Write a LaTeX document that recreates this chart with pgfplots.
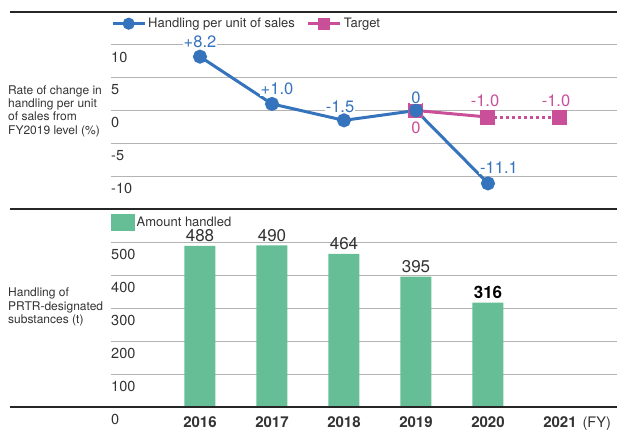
\documentclass[border=0pt]{standalone}
\usepackage{pgfplots}
\pgfplotsset{compat=1.18}
\usepackage{fontspec}
\setmainfont{TeX Gyre Heros}
\definecolor{cblue}{HTML}{3574BD}
\definecolor{cpink}{HTML}{C94F98}
\definecolor{cgreen}{HTML}{66BE97}
\definecolor{cgrid}{HTML}{B4B4B4}
\definecolor{ctext}{HTML}{333333}
\begin{document}
\begin{tikzpicture}[x=1pt,y=1pt]
\useasboundingbox (0,0) rectangle (617,430);
\pgfplotsset{
  panel/.style={
    scale only axis, width=506pt,
    xmin=2014.764, xmax=2021.792,
    axis line style={draw=none},
    major tick length=0pt,
    ymajorgrids, grid style={cgrid, line width=0.8pt},
    yticklabel style={anchor=north west, inner sep=0pt, yshift=-7pt, font=\fontsize{14.5}{14.5}\selectfont, text=ctext},
    clip=false,
  },
}
% ---------- top panel ----------
\begin{axis}[panel, at={(111pt,221pt)}, anchor=south west, height=197pt,
  ymin=-15, ymax=15, ytick={-10,-5,0,5,10}, yticklabels={-10,-5,0,5,10},
  xtick=\empty,
  legend style={at={(0,1)}, anchor=north west, yshift=-4pt, draw=none, fill=none, inner sep=0pt,
    font=\fontsize{13}{13}\selectfont, text=ctext, legend columns=2,
    /tikz/every even column/.append style={column sep=10pt}},
  legend cell align=left,
  legend image code/.code={\draw[mark repeat=2, mark phase=2,#1] plot coordinates {(0pt,0pt)(16pt,0pt)(32pt,0pt)};},
]
\addlegendimage{cblue, line width=3pt, mark=*, mark size=4.5pt}
\addlegendentry{Handling per unit of sales}
\addlegendimage{cpink, line width=3pt, mark=square*, mark size=4.5pt}
\addlegendentry{Target}
\addplot[cpink, line width=3pt, mark=square*, mark size=6pt, forget plot] coordinates {(2019,0) (2020,-1.0)};
\addplot[cpink, line width=3pt, dash pattern=on 3pt off 3pt, mark=square*, mark size=6pt, mark options={solid}, forget plot] coordinates {(2020,-1.0) (2021,-1.0)};
\addplot[cblue, line width=3pt, mark=*, mark size=5.5pt, forget plot] coordinates {(2016,8.2) (2017,1.0) (2018,-1.5) (2019,0) (2020,-11.1)};
\addplot[draw=none, forget plot, nodes near coords, point meta=explicit symbolic,
  visualization depends on={value \thisrow{dx} \as \dx},
  visualization depends on={value \thisrow{dy} \as \dy},
  every node near coord/.append style={anchor=center, xshift=\dx pt, yshift=\dy pt, fill=white, inner sep=1pt, text=cblue, font=\fontsize{16.5}{16.5}\selectfont}]
  table[x=x, y=y, meta=lab] {
x y lab dx dy
2016 8.2 +8.2 0 15
2017 1.0 +1.0 5 15
2018 -1.5 -1.5 -4 14
2019 0 0 0 13
2020 -11.1 -11.1 11 16
};
\addplot[draw=none, forget plot, nodes near coords, point meta=explicit symbolic,
  visualization depends on={value \thisrow{dx} \as \dx},
  visualization depends on={value \thisrow{dy} \as \dy},
  every node near coord/.append style={anchor=center, xshift=\dx pt, yshift=\dy pt, fill=white, inner sep=1pt, text=cpink, font=\fontsize{16.5}{16.5}\selectfont}]
  table[x=x, y=y, meta=lab] {
x y lab dx dy
2019 0 0 0 -17
2020 -1.0 -1.0 -3 16
2021 -1.0 -1.0 -4 16
};
\end{axis}
% ---------- bottom panel ----------
\begin{axis}[panel, at={(111pt,23pt)}, anchor=south west, height=198pt,
  ymin=0, ymax=600, ytick={0,100,200,300,400,500}, yticklabels={0,100,200,300,400,500},
  xtick={2016,2017,2018,2019,2020,2021},
  xticklabels={2016,2017,2018,2019,2020,{2021\rlap{\hspace{6pt}\mdseries\fontsize{14.5}{14.5}\selectfont(FY)}}},
  xticklabel style={anchor=north, inner sep=0pt, yshift=-9pt, font=\bfseries\fontsize{15}{15}\selectfont, text=ctext},
  legend style={at={(0,1)}, anchor=north west, yshift=-5pt, draw=none, fill=none, inner sep=0pt,
    font=\fontsize{13}{13}\selectfont, text=ctext},
  legend cell align=left,
]
\addlegendimage{legend image code/.code={\fill[cgreen] (0pt,-8pt) rectangle (23pt,8pt);}}
\addlegendentry{Amount handled}
\addplot[ybar, bar width=31pt, fill=cgreen, draw=none, forget plot,
  nodes near coords, point meta=explicit symbolic,
  every node near coord/.append style={anchor=center, yshift=10pt, inner sep=0pt, text=ctext, font=\fontsize{17}{17}\selectfont}]
  coordinates {(2016,488) [488] (2017,490) [490] (2018,464) [464] (2019,395) [395] (2020,316) [\textcolor{black}{\bfseries 316}]};
\end{axis}
% separators and axis titles
\draw[line width=1.3pt, black!85] (10,418) -- (617,418);
\draw[line width=1.3pt, black!85] (10,221) -- (617,221);
\draw[line width=1.3pt, black!85] (10,23) -- (617,23);
\node[anchor=west, align=left, font=\fontsize{12}{13.3}\selectfont, text=ctext, inner sep=0pt] at (8,319) {Rate of change in\\handling per unit\\of sales from\\FY2019 level (\%)};
\node[anchor=west, align=left, font=\fontsize{12}{13.3}\selectfont, text=ctext, inner sep=0pt] at (8,123) {Handling of\\PRTR-designated\\substances (t)};
\end{tikzpicture}
\end{document}
